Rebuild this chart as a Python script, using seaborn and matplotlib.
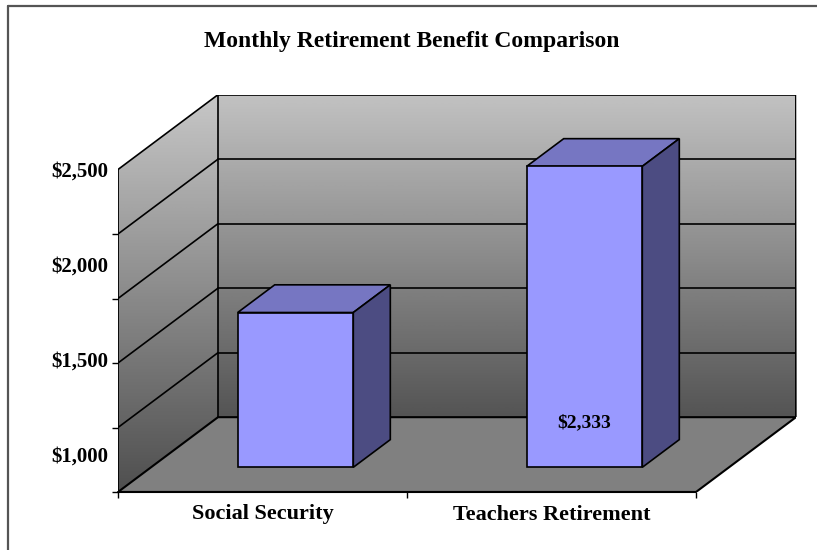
import numpy as np
import pandas as pd
import matplotlib.pyplot as plt
import seaborn as sns
from matplotlib.patches import Polygon
from matplotlib.lines import Line2D

# Dados
categorias = ["Social Security", "Teachers Retirement"]
beneficios = [1200, 2333]
rotulos_valor = ["", "$2,333"]
rotulos_eixo = ["$1,000", "$1,500", "$2,000", "$2,500"]
marcas_eixo = [0, 500, 1000, 1500, 2000, 2500]
titulo = "Monthly Retirement Benefit Comparison"

# Geometria do efeito 3D (profundidade em unidades de dados)
DX, DY = 0.346, 580
F0, F1 = 0.33, 0.70
YMAX = 2500

sns.set_theme(style="white")
plt.rcParams["font.family"] = ["Liberation Serif", "DejaVu Serif"]
plt.rcParams["font.weight"] = "bold"
plt.rcParams["text.color"] = "black"
plt.rcParams["xtick.color"] = "black"
plt.rcParams["ytick.color"] = "black"

fig = plt.figure(figsize=(8.17, 5.5), dpi=100)
W, H = 817, 550
ax = fig.add_axes([118 / W, 58 / H, 678 / W, (YMAX + DY) * 0.129 / H])

df = pd.DataFrame({"categoria": categorias, "valor": beneficios})
sns.barplot(data=df, x="categoria", y="valor", color="#9999FF", saturation=1,
            width=0.4, edgecolor="black", linewidth=1.2, ax=ax)
barras = list(ax.patches)

x0, x1 = -0.5, 1.5

# Parede do fundo com gradiente
grad = np.linspace(0.33, 0.76, 256).reshape(-1, 1)
ax.imshow(grad, extent=(x0 + DX, x1 + DX, DY, YMAX + DY), origin="lower",
          cmap="gray", vmin=0, vmax=1, aspect="auto", zorder=0,
          interpolation="bicubic")

# Parede lateral com gradiente (recortada)
lateral = Polygon([(x0, 0), (x0, YMAX), (x0 + DX, YMAX + DY), (x0 + DX, DY)],
                  closed=True, facecolor="none", edgecolor="none")
ax.add_patch(lateral)
img = ax.imshow(np.linspace(0.31, 0.78, 256).reshape(-1, 1),
                extent=(x0, x0 + DX, 0, YMAX + DY), origin="lower",
                cmap="gray", vmin=0, vmax=1, aspect="auto", zorder=0,
                interpolation="bicubic")
img.set_clip_path(lateral)

# Piso
ax.add_patch(Polygon([(x0, 0), (x1, 0), (x1 + DX, DY), (x0 + DX, DY)],
                     closed=True, facecolor="#808080", edgecolor="black",
                     linewidth=1.5, zorder=1))

# Linhas de grade e contornos das paredes
for v in marcas_eixo[1:]:
    ax.plot([x0, x0 + DX], [v, v + DY], color="black", lw=1.2, zorder=2)
    ax.plot([x0 + DX, x1 + DX], [v + DY, v + DY], color="black", lw=1.2, zorder=2)
ax.plot([x0, x0], [0, YMAX], color="black", lw=1.3, zorder=2)
ax.plot([x0 + DX, x0 + DX], [DY, YMAX + DY], color="black", lw=1.2, zorder=2)
ax.plot([x1 + DX, x1 + DX], [DY, YMAX + DY], color="black", lw=1.4, zorder=2)

# Barras 3D: desloca a face frontal e desenha topo e lateral
dd = F1 - F0
for barra, valor, rot in zip(barras, beneficios, rotulos_valor):
    barra.set_x(barra.get_x() + F0 * DX)
    barra.set_y(F0 * DY)
    barra.set_zorder(4)
    bx0 = barra.get_x()
    bx1 = bx0 + barra.get_width()
    base = F0 * DY
    topo = base + valor
    ax.add_patch(Polygon([(bx0, topo), (bx1, topo), (bx1 + dd * DX, topo + dd * DY),
                          (bx0 + dd * DX, topo + dd * DY)], closed=True,
                         facecolor="#7676C2", edgecolor="black", lw=1.2, zorder=3))
    ax.add_patch(Polygon([(bx1, base), (bx1, topo), (bx1 + dd * DX, topo + dd * DY),
                          (bx1 + dd * DX, base + dd * DY)], closed=True,
                         facecolor="#4C4C82", edgecolor="black", lw=1.2, zorder=3))
    if rot:
        ax.annotate(rot, xy=((bx0 + bx1) / 2, base), xytext=(0, 32),
                    textcoords="offset points", ha="center", va="center",
                    fontsize=14, fontweight="bold", color="black", zorder=5)

ax.set_xlim(x0, x1 + DX)
ax.set_ylim(0, YMAX + DY)
for s in ax.spines.values():
    s.set_visible(False)
ax.set_facecolor("white")
ax.set_xlabel("")
ax.set_ylabel("")

# Eixo Y: marcas a cada 500, rótulos como aparecem no original
ax.set_yticks(np.linspace(295, YMAX, len(rotulos_eixo)), rotulos_eixo)
ax.set_yticks(marcas_eixo, minor=True)
ax.tick_params(axis="y", which="major", length=0, pad=7, labelsize=15)
ax.tick_params(axis="y", which="minor", length=4, width=1, color="black", left=True)

ax.set_xticks([0, 1], categorias)
ax.set_xticks([x0, 0.5, x1], minor=True)
ax.tick_params(axis="x", which="major", length=0, pad=9, labelsize=16)
ax.tick_params(axis="x", which="minor", length=4.5, width=1, color="black", bottom=True)
ax.plot([x0, x1], [0, 0], color="black", lw=1.5, zorder=2, clip_on=False)

fig.text(412 / W, 1 - 41 / H, titulo, ha="center", va="center",
         fontsize=17, fontweight="bold")

# Moldura do gráfico
fig.add_artist(Line2D([8 / W, 1], [1 - 6 / H] * 2, transform=fig.transFigure,
                      color="#555555", lw=1.6))
fig.add_artist(Line2D([8 / W] * 2, [0, 1 - 6 / H], transform=fig.transFigure,
                      color="#555555", lw=1.6))

plt.savefig("out.png", dpi=100)
plt.close()
